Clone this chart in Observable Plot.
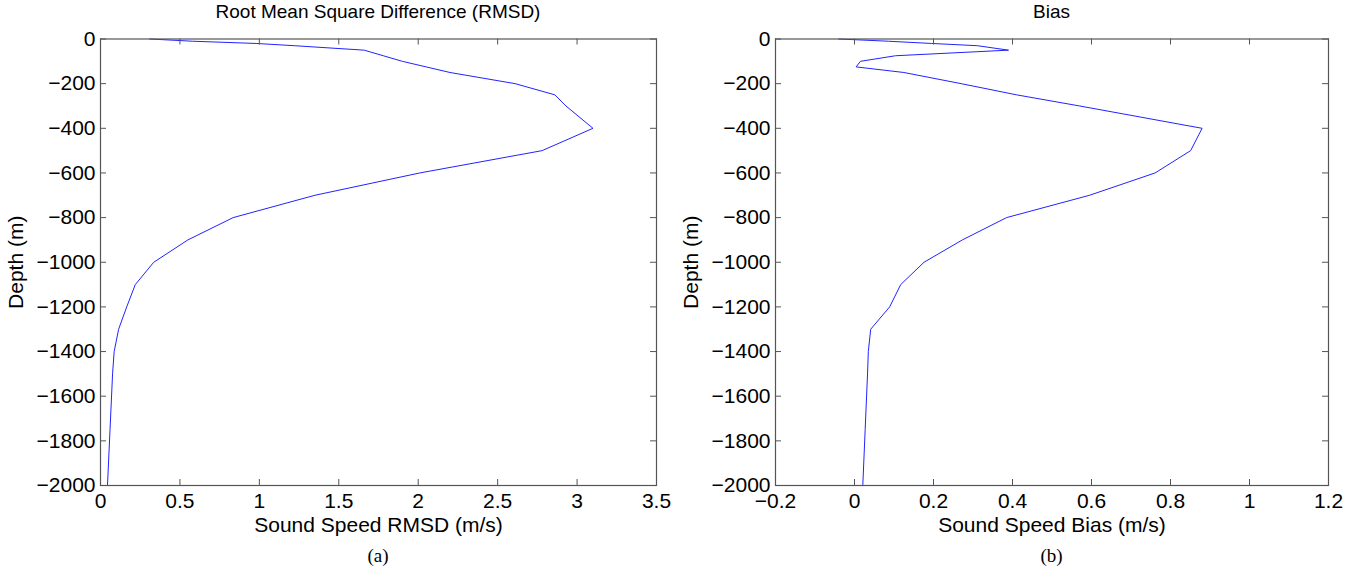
<!DOCTYPE html>
<html>
<head>
<meta charset="utf-8">
<script src="https://cdn.jsdelivr.net/npm/d3@7"></script>
<script src="https://cdn.jsdelivr.net/npm/@observablehq/plot@0.6"></script>
<style>
  html, body { margin: 0; padding: 0; background: #fff; }
  body { width: 1370px; height: 575px; position: relative; overflow: hidden; font-family: "Liberation Sans", Arial, Helvetica, sans-serif; }
  .panel { position: absolute; top: 28px; }
  .title { position: absolute; top: 1px; text-align: center; font-size: 19px; line-height: 22px; color: #000; }
  .cap { position: absolute; top: 545px; text-align: center; font-family: "Liberation Serif", "Times New Roman", serif; font-size: 19px; line-height: 22px; color: #000; }
</style>
</head>
<body>
<div class="title" style="left:100px;width:556px">Root Mean Square Difference (RMSD)</div>
<div class="title" style="left:775px;width:553px">Bias</div>
<div id="pa" class="panel" style="left:0px"></div>
<div id="pb" class="panel" style="left:685px"></div>
<div class="cap" style="left:100px;width:556px">(a)</div>
<div class="cap" style="left:775px;width:553px">(b)</div>
<script>
// Depth levels (m)
const depths = [0, -10, -20, -30, -50, -75, -100, -125, -150, -200, -250, -300, -400, -500, -600, -700, -800, -900, -1000, -1100, -1200, -1300, -1400, -1500, -1750, -2000];
// Sound speed RMSD (m/s)
const rmsd = [0.31, 0.58, 0.98, 1.22, 1.66, 1.78, 1.90, 2.05, 2.20, 2.61, 2.86, 2.93, 3.10, 2.78, 2.01, 1.35, 0.835, 0.55, 0.335, 0.219, 0.165, 0.114, 0.086, 0.076, 0.060, 0.044];
// Sound speed bias (m/s)
const bias = [-0.04, 0.086, 0.195, 0.311, 0.39, 0.104, 0.015, 0.004, 0.125, 0.27, 0.41, 0.57, 0.88, 0.851, 0.761, 0.595, 0.385, 0.273, 0.176, 0.117, 0.089, 0.041, 0.035, 0.033, 0.027, 0.021];
// Tick values
const depthTicks = [0, -200, -400, -600, -800, -1000, -1200, -1400, -1600, -1800, -2000];
const rmsdTicks = [0, 0.5, 1, 1.5, 2, 2.5, 3, 3.5];
const biasTicks = [-0.2, 0, 0.2, 0.4, 0.6, 0.8, 1, 1.2];

const fmt = d => String(d).replace("-", "\u2212");

function panel({values, xDomain, xTicks, xLabel, mLeft, mRight}) {
  const W = 685, mt = 10.5, mb = 50, H = 485 - 28 + mb;
  const innerW = W - mLeft - mRight, innerH = H - mt - mb;
  const data = depths.map((d, i) => ({depth: d, v: values[i]}));
  const axisCol = "#555";
  const tl = 6;
  return Plot.plot({
    width: W, height: H,
    marginTop: mt, marginBottom: mb, marginLeft: mLeft, marginRight: mRight,
    style: {fontFamily: "'Liberation Sans', Arial, Helvetica, sans-serif", fontSize: "21px", color: "#000", background: "transparent", overflow: "visible"},
    x: {domain: xDomain},
    y: {domain: [-2000, 0]},
    marks: [
      Plot.line(data, {x: "v", y: "depth", stroke: "#2222ff", strokeWidth: 1}),
      Plot.tickX(xTicks, {x: d => d, insetTop: innerH - tl, stroke: axisCol}),
      Plot.tickX(xTicks, {x: d => d, insetBottom: innerH - tl, stroke: axisCol}),
      Plot.tickY(depthTicks, {y: d => d, insetRight: innerW - tl, stroke: axisCol}),
      Plot.tickY(depthTicks, {y: d => d, insetLeft: innerW - tl, stroke: axisCol}),
      Plot.frame({stroke: axisCol, strokeWidth: 1.2}),
      Plot.axisX({ticks: xTicks, tickSize: 0, tickPadding: 8, tickFormat: fmt, label: xLabel, labelAnchor: "center", labelArrow: "none", labelOffset: 46, fill: "#000"}),
      Plot.axisY({ticks: depthTicks, tickSize: 0, tickPadding: 5, tickFormat: fmt, label: "Depth (m)", labelAnchor: "center", labelArrow: "none", labelOffset: 92, fill: "#000"})
    ]
  });
}

document.getElementById("pa").append(panel({
  values: rmsd, xDomain: [0, 3.5], xTicks: rmsdTicks, xLabel: "Sound Speed RMSD (m/s)", mLeft: 100, mRight: 29
}));
document.getElementById("pb").append(panel({
  values: bias, xDomain: [-0.2, 1.2], xTicks: biasTicks, xLabel: "Sound Speed Bias (m/s)", mLeft: 90, mRight: 42
}));
</script>
</body>
</html>
